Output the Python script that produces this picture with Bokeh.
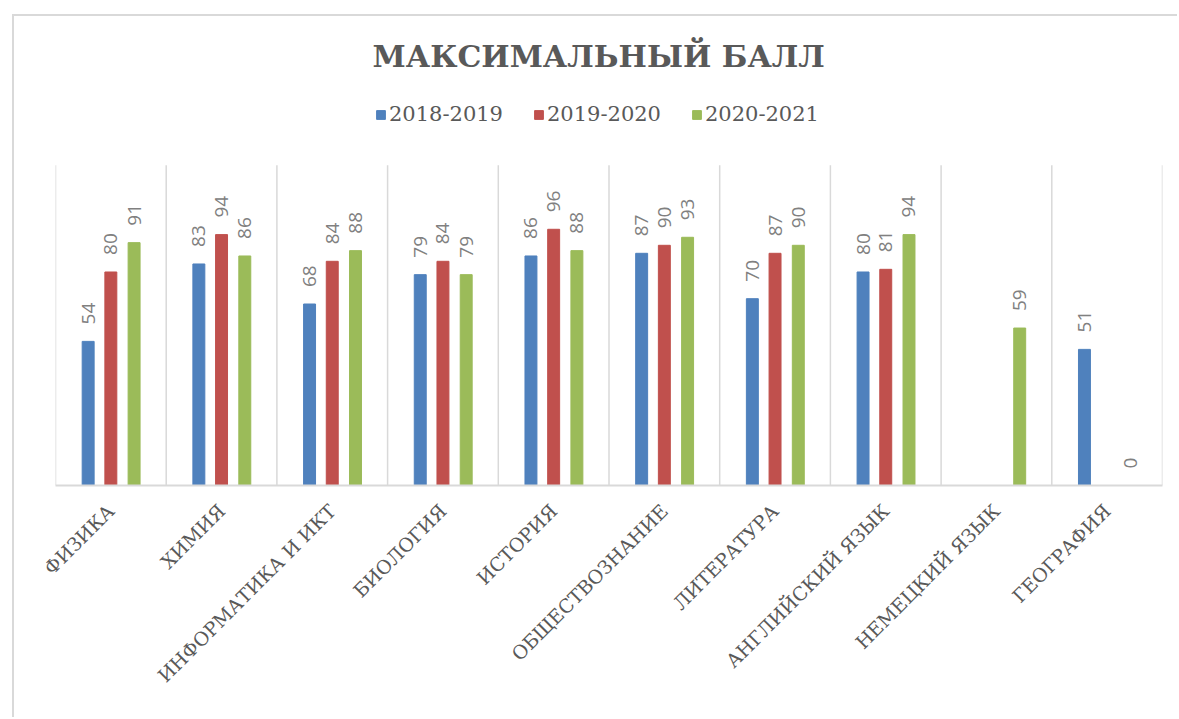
import math
from bokeh.plotting import figure
from bokeh.models import (ColumnDataSource, Range1d, FixedTicker, Legend, LegendItem)
from bokeh.core.properties import value
from bokeh.embed import file_html
from bokeh.resources import INLINE

categories = ["ФИЗИКА", "ХИМИЯ", "ИНФОРМАТИКА И ИКТ", "БИОЛОГИЯ", "ИСТОРИЯ",
              "ОБЩЕСТВОЗНАНИЕ", "ЛИТЕРАТУРА", "АНГЛИЙСКИЙ ЯЗЫК", "НЕМЕЦКИЙ ЯЗЫК", "ГЕОГРАФИЯ"]
series_names = ["2018-2019", "2019-2020", "2020-2021"]
s2018 = [54, 83, 68, 79, 86, 87, 70, 80, None, 51]
s2019 = [80, 94, 84, 84, 96, 90, 87, 81, None, None]
s2020 = [91, 86, 88, 79, 88, 93, 90, 94, 59, 0]

AXIS_TOP = 120
colors = ["#4f81bd", "#c0504d", "#9bbb59"]
offsets = [-0.205, 0.0, 0.21]
bar_w = 0.108
n = len(categories)

p = figure(width=1165, height=703, output_backend="svg", toolbar_location=None,
           x_range=Range1d(0, n), y_range=Range1d(0, 148),
           min_border_left=41, min_border_right=17, min_border_top=74,
           min_border_bottom=234, outline_line_color=None,
           background_fill_color="white", border_fill_color="white")
p.margin = (14, 0, 0, 12)
p.styles = {"border-left": "2px solid #d9d9d9", "border-top": "2px solid #d9d9d9"}

p.title.text = "МАКСИМАЛЬНЫЙ БАЛЛ"
p.title.align = "left"
p.title.offset = 317
p.title.text_font = "DejaVu Serif"
p.title.text_font_style = "bold"
p.title.text_font_size = "30px"
p.title.text_color = "#595959"
p.title.standoff = 34

# category dividers
p.segment(x0=list(range(n + 1)), y0=[0] * (n + 1), x1=list(range(n + 1)),
          y1=[AXIS_TOP] * (n + 1), line_color="#d9d9d9", line_width=1.5)

items = []
for k, vals in enumerate([s2018, s2019, s2020]):
    xs, tops, lt = [], [], []
    for i, v in enumerate(vals):
        if v is None:
            continue
        xs.append(i + 0.5 + offsets[k])
        tops.append(v)
        lt.append(str(v))
    src = ColumnDataSource(dict(x=xs, top=tops, t=lt))
    r = p.vbar(x="x", top="top", width=bar_w, bottom=0, source=src,
               fill_color=colors[k], line_color=colors[k])
    p.text(x="x", y="top", text="t", source=src, angle=math.pi / 2,
           text_align="left", text_baseline="middle", y_offset=-17,
           text_font=value("Open Sans"), text_font_size="19px", text_color="#808080")
    items.append(LegendItem(label=series_names[k], renderers=[r]))

legend = Legend(items=items, orientation="horizontal", location=(320, 359),
                label_text_font="DejaVu Serif", label_text_font_size="21px",
                label_text_color="#595959", glyph_width=11, glyph_height=11,
                spacing=30, label_standoff=3, border_line_color=None,
                background_fill_alpha=0, margin=0, padding=4)
p.add_layout(legend, "center")

p.yaxis.visible = False
p.xgrid.visible = False
p.ygrid.visible = False

p.xaxis.ticker = FixedTicker(ticks=[i + 0.5 for i in range(n)])
p.xaxis.major_label_overrides = {i + 0.5: c for i, c in enumerate(categories)}
p.xaxis.major_label_orientation = math.pi / 4
p.xaxis.major_label_text_font = "DejaVu Serif"
p.xaxis.major_label_text_font_size = "19px"
p.xaxis.major_label_text_color = "#595959"
p.xaxis.major_label_standoff = 16
p.xaxis.axis_line_color = "#d9d9d9"
p.xaxis.axis_line_width = 2
p.xaxis.major_tick_line_color = None
p.xaxis.minor_tick_line_color = None

open("out.html", "w").write(file_html(p, INLINE))
